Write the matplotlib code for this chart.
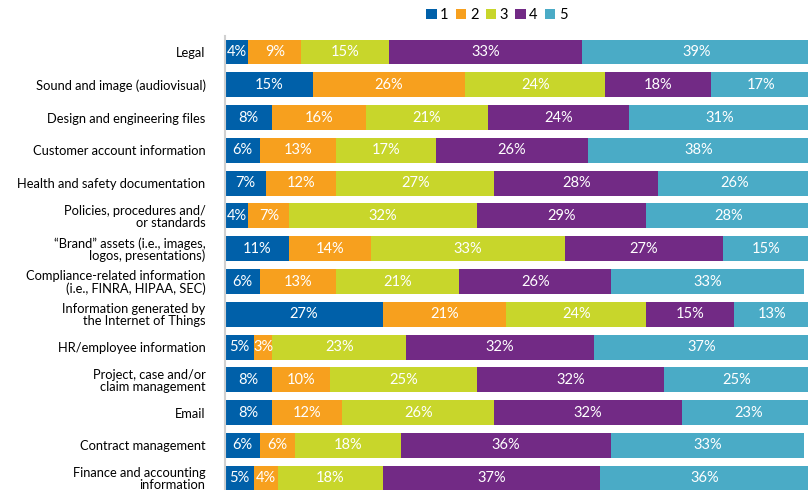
import matplotlib.pyplot as plt
import numpy as np

categories = [
    "Legal",
    "Sound and image (audiovisual)",
    "Design and engineering files",
    "Customer account information",
    "Health and safety documentation",
    "Policies, procedures and/\nor standards",
    "\u201cBrand\u201d assets (i.e., images,\nlogos, presentations)",
    "Compliance-related information\n(i.e., FINRA, HIPAA, SEC)",
    "Information generated by\nthe Internet of Things",
    "HR/employee information",
    "Project, case and/or\nclaim management",
    "Email",
    "Contract management",
    "Finance and accounting\ninformation",
]
s1 = [4, 15, 8, 6, 7, 4, 11, 6, 27, 5, 8, 8, 6, 5]
s2 = [9, 26, 16, 13, 12, 7, 14, 13, 21, 3, 10, 12, 6, 4]
s3 = [15, 24, 21, 17, 27, 32, 33, 21, 24, 23, 25, 26, 18, 18]
s4 = [33, 18, 24, 26, 28, 29, 27, 26, 15, 32, 32, 32, 36, 37]
s5 = [39, 17, 31, 38, 26, 28, 15, 33, 13, 37, 25, 23, 33, 36]
series_names = ["1", "2", "3", "4", "5"]
colors = ["#0060a9", "#f7a01e", "#c8d62b", "#722a85", "#4aabc6"]

plt.rcParams['font.family'] = ['Lato', 'DejaVu Sans']

fig = plt.figure(figsize=(8.08, 4.9), dpi=100)
ax = fig.add_axes([0.2785, -0.0094, 0.7215, 0.9367])

y = np.arange(len(categories))
left = np.zeros(len(categories))
for name, vals, c in zip(series_names, [s1, s2, s3, s4, s5], colors):
    vals = np.array(vals, dtype=float)
    ax.barh(y, vals, left=left, height=0.76, color=c, label=name)
    for yi, l, v in zip(y, left, vals):
        ax.text(l + v / 2, yi, f"{int(v)}%", ha='center', va='center',
                color='white', fontsize=10.5)
    left += vals

ax.set_ylim(len(categories) - 0.5, -0.5)
ax.set_xlim(0, 99.6)
ax.set_yticks(y)
ax.set_yticklabels(categories, fontsize=9.3, linespacing=1.0)
ax.tick_params(axis='y', length=0, pad=14)
ax.set_xticks([])
for s in ['top', 'right', 'bottom']:
    ax.spines[s].set_visible(False)
ax.spines['left'].set_color('#d0d0d0')
ax.spines['left'].set_linewidth(1.5)

fig.legend(loc='upper center', bbox_to_anchor=(0.615, 1.01), ncol=5, frameon=False,
           fontsize=10.5, handlelength=0.7, handleheight=0.7, handletextpad=0.25,
           columnspacing=0.5)

fig.savefig("out.png", dpi=100)
